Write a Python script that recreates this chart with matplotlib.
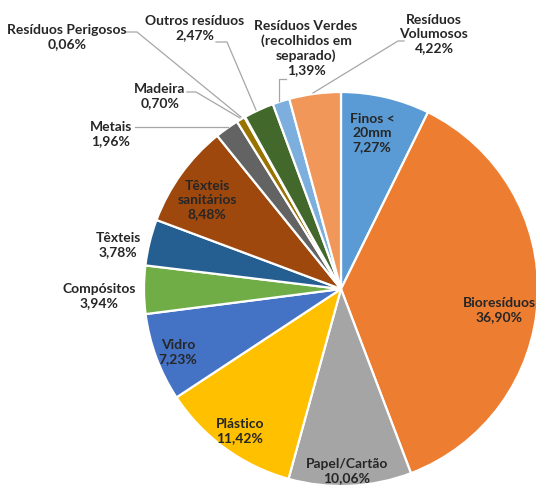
import matplotlib as mpl
mpl.use('Agg')
import matplotlib.pyplot as plt

W, H = 536, 486

categorias = ["Finos < 20mm", "Bioresíduos", "Papel/Cartão", "Plástico", "Vidro",
              "Compósitos", "Têxteis", "Têxteis sanitários", "Metais", "Madeira",
              "Resíduos Perigosos", "Outros resíduos",
              "Resíduos Verdes (recolhidos em separado)", "Resíduos Volumosos"]
valores = [7.27, 36.90, 10.06, 11.42, 7.23, 3.94, 3.78, 8.48, 1.96, 0.70,
           0.06, 2.47, 1.39, 4.22]
cores = ["#5B9BD5", "#ED7D31", "#A5A5A5", "#FFC000", "#4472C4", "#70AD47",
         "#255E91", "#9E480E", "#636363", "#997300", "#264478", "#43682B",
         "#7CAFDD", "#F1975A"]
# texto de cada rótulo (nome partido em linhas)
nomes = ["Finos <\n20mm", "Bioresíduos", "Papel/Cartão", "Plástico", "Vidro",
         "Compósitos", "Têxteis", "Têxteis\nsanitários", "Metais", "Madeira",
         "Resíduos Perigosos", "Outros resíduos",
         "Resíduos Verdes\n(recolhidos em\nseparado)", "Resíduos\nVolumosos"]

# posição (px) do centro de cada rótulo
pos = [(372, 133), (499, 310), (347, 471), (240, 431), (178, 352),
       (99, 296), (118, 245), (207, 200), (111, 134), (160, 96),
       (67, 37), (195, 28), (306, 48), (434, 34)]

# linhas de chamada (px)
linhas = [
    [(126, 32), (137, 32), (241, 117)],
    [(216, 42), (227, 42), (256, 110)],
    [(187, 92), (196, 92), (240, 118)],
    [(135, 127), (228, 127)],
    [(286, 79), (279, 79), (279, 101)],
    [(404, 41), (398, 41), (313, 93)],
]

def Y(py):
    return H - py

fig = plt.figure(figsize=(W / 100, H / 100), dpi=100)
ax = fig.add_axes([0, 0, 1, 1])

ax.pie(valores, colors=cores, startangle=90, counterclock=False,
       center=(341, Y(289)), radius=197,
       wedgeprops=dict(edgecolor='white', linewidth=1.6))

for linha in linhas:
    xs = [p[0] for p in linha]
    ys = [Y(p[1]) for p in linha]
    ax.plot(xs, ys, color='#A6A6A6', lw=0.9, zorder=1)

for nome, v, (px, py) in zip(nomes, valores, pos):
    txt = "{0}\n{1:.2f}%".format(nome, v).replace('.', ',')
    ax.text(px, Y(py), txt, ha='center', va='center', fontsize=10,
            fontweight='bold', family='Lato', color='#262626',
            linespacing=1.2)

ax.set_xlim(0, W)
ax.set_ylim(0, H)
ax.set_aspect('equal')
ax.axis('off')

fig.savefig('out.png', dpi=100)
